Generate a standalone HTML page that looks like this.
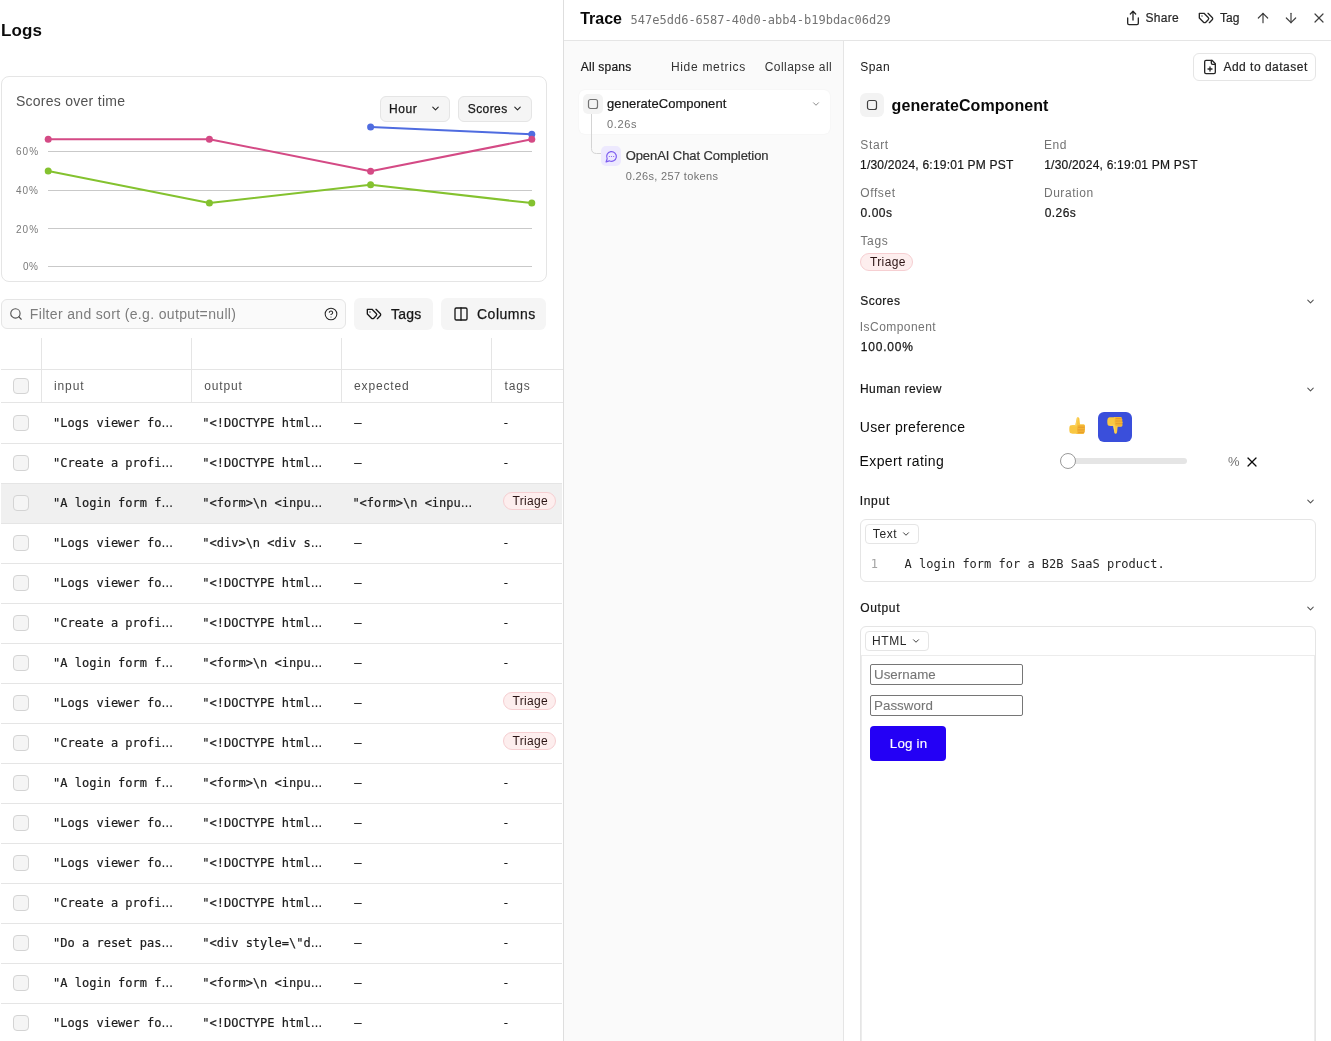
<!DOCTYPE html>
<html lang="en">
<head>
<meta charset="utf-8">
<title>Logs – Trace</title>
<style>
html,body{margin:0;padding:0}
body{width:1331px;height:1041px;position:relative;overflow:hidden;background:#fff;font-family:"Liberation Sans", Arial, sans-serif;font-size:12px;color:#171717}
.t{position:absolute;white-space:pre;line-height:1;margin:0}
.m{font-family:"DejaVu Sans Mono", "Liberation Mono", monospace}
.a{position:absolute;box-sizing:border-box}
.ic{overflow:visible}
.hl{position:absolute;height:1px;background:#e5e5e5}
.vl{position:absolute;width:1px;background:#e5e5e5}
.btn{position:absolute;box-sizing:border-box;background:#f5f5f5;border-radius:6px}
.cb{position:absolute;box-sizing:border-box;width:16px;height:16px;left:13px;border:1px solid #d4d4d4;background:#f5f5f5;border-radius:4px}
.pill{position:absolute;box-sizing:border-box;height:18px;border-radius:9px;background:#fdeeee;border:1px solid #f6cfd2}
.sel{position:absolute;box-sizing:border-box;height:20px;border:1px solid #e5e5e5;border-radius:4px;background:#fff}
.row{position:absolute;left:1px;width:561px;height:40px;box-sizing:border-box;border-bottom:1px solid #e5e5e5}
</style>
</head>
<body>
<main id="logs">
<header><span class="t" style="left:1.0px;top:22px;font-size:17px;color:#0a0a0a;font-weight:700;letter-spacing:0.13px;">Logs</span></header>
<section id="chart-card">
<div class="a" style="left:1px;top:76px;width:546px;height:206px;border:1px solid #e5e5e5;border-radius:8px;background:#fff"></div>
<div class="btn" style="left:380px;top:96px;width:70px;height:26px;border:1px solid #e5e5e5"></div>
<div class="btn" style="left:458px;top:96px;width:74px;height:26px;border:1px solid #e5e5e5"></div>
<svg class="a ic" style="left:429.5px;top:103.4px" width="11" height="11" viewBox="0 0 24 24" fill="none" stroke="#262626" stroke-width="2.4" stroke-linecap="round" stroke-linejoin="round"><path d="m6 9 6 6 6-6"/></svg>
<svg class="a ic" style="left:511.7px;top:103.4px" width="11" height="11" viewBox="0 0 24 24" fill="none" stroke="#262626" stroke-width="2.4" stroke-linecap="round" stroke-linejoin="round"><path d="m6 9 6 6 6-6"/></svg>
<svg class="a" style="left:0;top:0" width="563" height="290" viewBox="0 0 563 290">
<rect x="48" y="151" width="484" height="1" fill="#c9c9c9"/>
<rect x="48" y="190" width="484" height="1" fill="#c9c9c9"/>
<rect x="48" y="228" width="484" height="1" fill="#c9c9c9"/>
<rect x="48" y="266" width="484" height="1" fill="#c9c9c9"/>
<polyline fill="none" stroke="#84c22f" stroke-width="2" stroke-linejoin="round" stroke-linecap="round" points="48.2,171.1 209.4,203.1 370.6,184.8 531.8,203.1"/><circle cx="48.2" cy="171.1" r="3.5" fill="#84c22f"/><circle cx="209.4" cy="203.1" r="3.5" fill="#84c22f"/><circle cx="370.6" cy="184.8" r="3.5" fill="#84c22f"/><circle cx="531.8" cy="203.1" r="3.5" fill="#84c22f"/>
<polyline fill="none" stroke="#4f6ce0" stroke-width="2" stroke-linejoin="round" stroke-linecap="round" points="370.6,127 531.8,134.3"/><circle cx="370.6" cy="127" r="3.5" fill="#4f6ce0"/><circle cx="531.8" cy="134.3" r="3.5" fill="#4f6ce0"/>
<polyline fill="none" stroke="#d44a85" stroke-width="2" stroke-linejoin="round" stroke-linecap="round" points="48.2,139.2 209.4,139.2 370.6,171.2 531.8,139.3"/><circle cx="48.2" cy="139.2" r="3.5" fill="#d44a85"/><circle cx="209.4" cy="139.2" r="3.5" fill="#d44a85"/><circle cx="370.6" cy="171.2" r="3.5" fill="#d44a85"/><circle cx="531.8" cy="139.3" r="3.5" fill="#d44a85"/>
</svg>
<span class="t" style="left:15.9px;top:94px;font-size:14px;color:#525252;letter-spacing:0.27px;">Scores over time</span>
<span class="t" style="left:389.1px;top:103px;font-size:12px;color:#171717;letter-spacing:0.58px;-webkit-text-stroke:0.25px #171717;">Hour</span>
<span class="t" style="left:467.7px;top:103px;font-size:12px;color:#171717;letter-spacing:0.44px;-webkit-text-stroke:0.25px #171717;">Scores</span>
<span class="t" style="left:15.9px;top:147px;font-size:10px;color:#7a7a7a;letter-spacing:1.07px;">60%</span>
<span class="t" style="left:16.1px;top:186px;font-size:10px;color:#7a7a7a;letter-spacing:0.95px;">40%</span>
<span class="t" style="left:15.9px;top:225px;font-size:10px;color:#7a7a7a;letter-spacing:1.07px;">20%</span>
<span class="t" style="left:23.1px;top:262px;font-size:10px;color:#7a7a7a;letter-spacing:0.4px;">0%</span>
</section>
<section id="toolbar">
<div class="a" style="left:1px;top:299px;width:345px;height:30px;border:1px solid #e5e5e5;border-radius:6px;background:#fafafa"></div>
<svg class="a ic" style="left:9.3px;top:306.8px" width="14" height="14" viewBox="0 0 24 24" fill="none" stroke="#525252" stroke-width="1.9" stroke-linecap="round" stroke-linejoin="round"><circle cx="11" cy="11" r="8"/><path d="m21 21-4.3-4.3"/></svg>
<svg class="a ic" style="left:324px;top:307px" width="14" height="14" viewBox="0 0 24 24" fill="none" stroke="#262626" stroke-width="1.8" stroke-linecap="round" stroke-linejoin="round"><circle cx="12" cy="12" r="10"/><path d="M9.09 9a3 3 0 0 1 5.83 1c0 2-3 3-3 3"/><path d="M12 17h.01"/></svg>
<div class="btn" style="left:354px;top:298px;width:79px;height:32px"></div>
<div class="btn" style="left:441px;top:298px;width:105px;height:32px"></div>
<svg class="a ic" style="left:366px;top:306px" width="16" height="16" viewBox="0 0 24 24" fill="none" stroke="#171717" stroke-width="2" stroke-linecap="round" stroke-linejoin="round"><path d="M9 5H2v7l6.29 6.29c.94.94 2.48.94 3.42 0l3.58-3.58c.94-.94.94-2.48 0-3.42L9 5Z"/><path d="M6 9.01V9"/><path d="m15 5 6.3 6.3a2.4 2.4 0 0 1 0 3.4L17 19"/></svg>
<svg class="a ic" style="left:452.7px;top:306px" width="16" height="16" viewBox="0 0 24 24" fill="none" stroke="#171717" stroke-width="2" stroke-linecap="round" stroke-linejoin="round"><rect x="3" y="3" width="18" height="18" rx="2"/><path d="M12 3v18"/></svg>
<span class="t" style="left:29.8px;top:307px;font-size:14px;color:#7c7c7c;letter-spacing:0.34px;">Filter and sort (e.g. output=null)</span>
<span class="t" style="left:390.9px;top:307px;font-size:14px;color:#171717;letter-spacing:0.27px;-webkit-text-stroke:0.25px #171717;">Tags</span>
<span class="t" style="left:477.0px;top:307px;font-size:14px;color:#171717;letter-spacing:0.5px;-webkit-text-stroke:0.25px #171717;">Columns</span>
</section>
<section id="table">
<div class="vl" style="left:41px;top:338px;height:64px"></div>
<div class="vl" style="left:191px;top:338px;height:64px"></div>
<div class="vl" style="left:341px;top:338px;height:64px"></div>
<div class="vl" style="left:491px;top:338px;height:64px"></div>
<div class="hl" style="left:1px;top:369px;width:562px"></div>
<div class="hl" style="left:1px;top:402px;width:562px"></div>
<div class="cb" style="top:378px"></div>
<span class="t" style="left:54.0px;top:380px;font-size:12px;color:#525252;letter-spacing:0.89px;">input</span>
<span class="t" style="left:204.2px;top:380px;font-size:12px;color:#525252;letter-spacing:0.85px;">output</span>
<span class="t" style="left:354.0px;top:380px;font-size:12px;color:#525252;letter-spacing:0.86px;">expected</span>
<span class="t" style="left:504.6px;top:380px;font-size:12px;color:#525252;letter-spacing:0.8px;">tags</span>
<div class="row" style="top:403px;height:41px;">
</div>
<div class="cb" style="top:415px"></div>
<span class="t m" style="left:53.1px;top:417px;font-size:12px;color:#1c1c1c;-webkit-text-stroke:0.2px #1c1c1c;">"Logs viewer fo</span>
<span class="t" style="left:161.3px;top:417px;font-size:12px;color:#1c1c1c;-webkit-text-stroke:0.2px #1c1c1c;">…</span>
<span class="t m" style="left:202.3px;top:417px;font-size:12px;color:#1c1c1c;-webkit-text-stroke:0.2px #1c1c1c;">"&lt;!DOCTYPE html</span>
<span class="t" style="left:310.5px;top:417px;font-size:12px;color:#1c1c1c;-webkit-text-stroke:0.2px #1c1c1c;">…</span>
<span class="t m" style="left:354.3px;top:417px;font-size:12px;color:#1c1c1c;-webkit-text-stroke:0.2px #1c1c1c;">–</span>
<span class="t m" style="left:502.3px;top:417px;font-size:12px;color:#1c1c1c;-webkit-text-stroke:0.2px #1c1c1c;">-</span>
<div class="row" style="top:444px;">
</div>
<div class="cb" style="top:455px"></div>
<span class="t m" style="left:53.1px;top:457px;font-size:12px;color:#1c1c1c;-webkit-text-stroke:0.2px #1c1c1c;">"Create a profi</span>
<span class="t" style="left:161.3px;top:457px;font-size:12px;color:#1c1c1c;-webkit-text-stroke:0.2px #1c1c1c;">…</span>
<span class="t m" style="left:202.3px;top:457px;font-size:12px;color:#1c1c1c;-webkit-text-stroke:0.2px #1c1c1c;">"&lt;!DOCTYPE html</span>
<span class="t" style="left:310.5px;top:457px;font-size:12px;color:#1c1c1c;-webkit-text-stroke:0.2px #1c1c1c;">…</span>
<span class="t m" style="left:354.3px;top:457px;font-size:12px;color:#1c1c1c;-webkit-text-stroke:0.2px #1c1c1c;">–</span>
<span class="t m" style="left:502.3px;top:457px;font-size:12px;color:#1c1c1c;-webkit-text-stroke:0.2px #1c1c1c;">-</span>
<div class="row" style="top:484px;background:#f0f0f0;">
</div>
<div class="cb" style="top:495px"></div>
<div class="pill" style="left:503px;top:492px;width:53px"></div>
<span class="t m" style="left:53.1px;top:497px;font-size:12px;color:#1c1c1c;-webkit-text-stroke:0.2px #1c1c1c;">"A login form f</span>
<span class="t" style="left:161.3px;top:497px;font-size:12px;color:#1c1c1c;-webkit-text-stroke:0.2px #1c1c1c;">…</span>
<span class="t m" style="left:202.3px;top:497px;font-size:12px;color:#1c1c1c;-webkit-text-stroke:0.2px #1c1c1c;">"&lt;form&gt;\n &lt;inpu</span>
<span class="t" style="left:310.5px;top:497px;font-size:12px;color:#1c1c1c;-webkit-text-stroke:0.2px #1c1c1c;">…</span>
<span class="t m" style="left:352.4px;top:497px;font-size:12px;color:#1c1c1c;-webkit-text-stroke:0.2px #1c1c1c;">"&lt;form&gt;\n &lt;inpu</span>
<span class="t" style="left:460.5px;top:497px;font-size:12px;color:#1c1c1c;-webkit-text-stroke:0.2px #1c1c1c;">…</span>
<span class="t" style="left:512.5px;top:495px;font-size:12px;color:#2b1414;letter-spacing:0.31px;">Triage</span>
<div class="row" style="top:524px;">
</div>
<div class="cb" style="top:535px"></div>
<span class="t m" style="left:53.1px;top:537px;font-size:12px;color:#1c1c1c;-webkit-text-stroke:0.2px #1c1c1c;">"Logs viewer fo</span>
<span class="t" style="left:161.3px;top:537px;font-size:12px;color:#1c1c1c;-webkit-text-stroke:0.2px #1c1c1c;">…</span>
<span class="t m" style="left:202.3px;top:537px;font-size:12px;color:#1c1c1c;-webkit-text-stroke:0.2px #1c1c1c;">"&lt;div&gt;\n &lt;div s</span>
<span class="t" style="left:310.5px;top:537px;font-size:12px;color:#1c1c1c;-webkit-text-stroke:0.2px #1c1c1c;">…</span>
<span class="t m" style="left:354.3px;top:537px;font-size:12px;color:#1c1c1c;-webkit-text-stroke:0.2px #1c1c1c;">–</span>
<span class="t m" style="left:502.3px;top:537px;font-size:12px;color:#1c1c1c;-webkit-text-stroke:0.2px #1c1c1c;">-</span>
<div class="row" style="top:564px;">
</div>
<div class="cb" style="top:575px"></div>
<span class="t m" style="left:53.1px;top:577px;font-size:12px;color:#1c1c1c;-webkit-text-stroke:0.2px #1c1c1c;">"Logs viewer fo</span>
<span class="t" style="left:161.3px;top:577px;font-size:12px;color:#1c1c1c;-webkit-text-stroke:0.2px #1c1c1c;">…</span>
<span class="t m" style="left:202.3px;top:577px;font-size:12px;color:#1c1c1c;-webkit-text-stroke:0.2px #1c1c1c;">"&lt;!DOCTYPE html</span>
<span class="t" style="left:310.5px;top:577px;font-size:12px;color:#1c1c1c;-webkit-text-stroke:0.2px #1c1c1c;">…</span>
<span class="t m" style="left:354.3px;top:577px;font-size:12px;color:#1c1c1c;-webkit-text-stroke:0.2px #1c1c1c;">–</span>
<span class="t m" style="left:502.3px;top:577px;font-size:12px;color:#1c1c1c;-webkit-text-stroke:0.2px #1c1c1c;">-</span>
<div class="row" style="top:604px;">
</div>
<div class="cb" style="top:615px"></div>
<span class="t m" style="left:53.1px;top:617px;font-size:12px;color:#1c1c1c;-webkit-text-stroke:0.2px #1c1c1c;">"Create a profi</span>
<span class="t" style="left:161.3px;top:617px;font-size:12px;color:#1c1c1c;-webkit-text-stroke:0.2px #1c1c1c;">…</span>
<span class="t m" style="left:202.3px;top:617px;font-size:12px;color:#1c1c1c;-webkit-text-stroke:0.2px #1c1c1c;">"&lt;!DOCTYPE html</span>
<span class="t" style="left:310.5px;top:617px;font-size:12px;color:#1c1c1c;-webkit-text-stroke:0.2px #1c1c1c;">…</span>
<span class="t m" style="left:354.3px;top:617px;font-size:12px;color:#1c1c1c;-webkit-text-stroke:0.2px #1c1c1c;">–</span>
<span class="t m" style="left:502.3px;top:617px;font-size:12px;color:#1c1c1c;-webkit-text-stroke:0.2px #1c1c1c;">-</span>
<div class="row" style="top:644px;">
</div>
<div class="cb" style="top:655px"></div>
<span class="t m" style="left:53.1px;top:657px;font-size:12px;color:#1c1c1c;-webkit-text-stroke:0.2px #1c1c1c;">"A login form f</span>
<span class="t" style="left:161.3px;top:657px;font-size:12px;color:#1c1c1c;-webkit-text-stroke:0.2px #1c1c1c;">…</span>
<span class="t m" style="left:202.3px;top:657px;font-size:12px;color:#1c1c1c;-webkit-text-stroke:0.2px #1c1c1c;">"&lt;form&gt;\n &lt;inpu</span>
<span class="t" style="left:310.5px;top:657px;font-size:12px;color:#1c1c1c;-webkit-text-stroke:0.2px #1c1c1c;">…</span>
<span class="t m" style="left:354.3px;top:657px;font-size:12px;color:#1c1c1c;-webkit-text-stroke:0.2px #1c1c1c;">–</span>
<span class="t m" style="left:502.3px;top:657px;font-size:12px;color:#1c1c1c;-webkit-text-stroke:0.2px #1c1c1c;">-</span>
<div class="row" style="top:684px;">
</div>
<div class="cb" style="top:695px"></div>
<div class="pill" style="left:503px;top:692px;width:53px"></div>
<span class="t m" style="left:53.1px;top:697px;font-size:12px;color:#1c1c1c;-webkit-text-stroke:0.2px #1c1c1c;">"Logs viewer fo</span>
<span class="t" style="left:161.3px;top:697px;font-size:12px;color:#1c1c1c;-webkit-text-stroke:0.2px #1c1c1c;">…</span>
<span class="t m" style="left:202.3px;top:697px;font-size:12px;color:#1c1c1c;-webkit-text-stroke:0.2px #1c1c1c;">"&lt;!DOCTYPE html</span>
<span class="t" style="left:310.5px;top:697px;font-size:12px;color:#1c1c1c;-webkit-text-stroke:0.2px #1c1c1c;">…</span>
<span class="t m" style="left:354.3px;top:697px;font-size:12px;color:#1c1c1c;-webkit-text-stroke:0.2px #1c1c1c;">–</span>
<span class="t" style="left:512.5px;top:695px;font-size:12px;color:#2b1414;letter-spacing:0.31px;">Triage</span>
<div class="row" style="top:724px;">
</div>
<div class="cb" style="top:735px"></div>
<div class="pill" style="left:503px;top:732px;width:53px"></div>
<span class="t m" style="left:53.1px;top:737px;font-size:12px;color:#1c1c1c;-webkit-text-stroke:0.2px #1c1c1c;">"Create a profi</span>
<span class="t" style="left:161.3px;top:737px;font-size:12px;color:#1c1c1c;-webkit-text-stroke:0.2px #1c1c1c;">…</span>
<span class="t m" style="left:202.3px;top:737px;font-size:12px;color:#1c1c1c;-webkit-text-stroke:0.2px #1c1c1c;">"&lt;!DOCTYPE html</span>
<span class="t" style="left:310.5px;top:737px;font-size:12px;color:#1c1c1c;-webkit-text-stroke:0.2px #1c1c1c;">…</span>
<span class="t m" style="left:354.3px;top:737px;font-size:12px;color:#1c1c1c;-webkit-text-stroke:0.2px #1c1c1c;">–</span>
<span class="t" style="left:512.5px;top:735px;font-size:12px;color:#2b1414;letter-spacing:0.31px;">Triage</span>
<div class="row" style="top:764px;">
</div>
<div class="cb" style="top:775px"></div>
<span class="t m" style="left:53.1px;top:777px;font-size:12px;color:#1c1c1c;-webkit-text-stroke:0.2px #1c1c1c;">"A login form f</span>
<span class="t" style="left:161.3px;top:777px;font-size:12px;color:#1c1c1c;-webkit-text-stroke:0.2px #1c1c1c;">…</span>
<span class="t m" style="left:202.3px;top:777px;font-size:12px;color:#1c1c1c;-webkit-text-stroke:0.2px #1c1c1c;">"&lt;form&gt;\n &lt;inpu</span>
<span class="t" style="left:310.5px;top:777px;font-size:12px;color:#1c1c1c;-webkit-text-stroke:0.2px #1c1c1c;">…</span>
<span class="t m" style="left:354.3px;top:777px;font-size:12px;color:#1c1c1c;-webkit-text-stroke:0.2px #1c1c1c;">–</span>
<span class="t m" style="left:502.3px;top:777px;font-size:12px;color:#1c1c1c;-webkit-text-stroke:0.2px #1c1c1c;">-</span>
<div class="row" style="top:804px;">
</div>
<div class="cb" style="top:815px"></div>
<span class="t m" style="left:53.1px;top:817px;font-size:12px;color:#1c1c1c;-webkit-text-stroke:0.2px #1c1c1c;">"Logs viewer fo</span>
<span class="t" style="left:161.3px;top:817px;font-size:12px;color:#1c1c1c;-webkit-text-stroke:0.2px #1c1c1c;">…</span>
<span class="t m" style="left:202.3px;top:817px;font-size:12px;color:#1c1c1c;-webkit-text-stroke:0.2px #1c1c1c;">"&lt;!DOCTYPE html</span>
<span class="t" style="left:310.5px;top:817px;font-size:12px;color:#1c1c1c;-webkit-text-stroke:0.2px #1c1c1c;">…</span>
<span class="t m" style="left:354.3px;top:817px;font-size:12px;color:#1c1c1c;-webkit-text-stroke:0.2px #1c1c1c;">–</span>
<span class="t m" style="left:502.3px;top:817px;font-size:12px;color:#1c1c1c;-webkit-text-stroke:0.2px #1c1c1c;">-</span>
<div class="row" style="top:844px;">
</div>
<div class="cb" style="top:855px"></div>
<span class="t m" style="left:53.1px;top:857px;font-size:12px;color:#1c1c1c;-webkit-text-stroke:0.2px #1c1c1c;">"Logs viewer fo</span>
<span class="t" style="left:161.3px;top:857px;font-size:12px;color:#1c1c1c;-webkit-text-stroke:0.2px #1c1c1c;">…</span>
<span class="t m" style="left:202.3px;top:857px;font-size:12px;color:#1c1c1c;-webkit-text-stroke:0.2px #1c1c1c;">"&lt;!DOCTYPE html</span>
<span class="t" style="left:310.5px;top:857px;font-size:12px;color:#1c1c1c;-webkit-text-stroke:0.2px #1c1c1c;">…</span>
<span class="t m" style="left:354.3px;top:857px;font-size:12px;color:#1c1c1c;-webkit-text-stroke:0.2px #1c1c1c;">–</span>
<span class="t m" style="left:502.3px;top:857px;font-size:12px;color:#1c1c1c;-webkit-text-stroke:0.2px #1c1c1c;">-</span>
<div class="row" style="top:884px;">
</div>
<div class="cb" style="top:895px"></div>
<span class="t m" style="left:53.1px;top:897px;font-size:12px;color:#1c1c1c;-webkit-text-stroke:0.2px #1c1c1c;">"Create a profi</span>
<span class="t" style="left:161.3px;top:897px;font-size:12px;color:#1c1c1c;-webkit-text-stroke:0.2px #1c1c1c;">…</span>
<span class="t m" style="left:202.3px;top:897px;font-size:12px;color:#1c1c1c;-webkit-text-stroke:0.2px #1c1c1c;">"&lt;!DOCTYPE html</span>
<span class="t" style="left:310.5px;top:897px;font-size:12px;color:#1c1c1c;-webkit-text-stroke:0.2px #1c1c1c;">…</span>
<span class="t m" style="left:354.3px;top:897px;font-size:12px;color:#1c1c1c;-webkit-text-stroke:0.2px #1c1c1c;">–</span>
<span class="t m" style="left:502.3px;top:897px;font-size:12px;color:#1c1c1c;-webkit-text-stroke:0.2px #1c1c1c;">-</span>
<div class="row" style="top:924px;">
</div>
<div class="cb" style="top:935px"></div>
<span class="t m" style="left:53.1px;top:937px;font-size:12px;color:#1c1c1c;-webkit-text-stroke:0.2px #1c1c1c;">"Do a reset pas</span>
<span class="t" style="left:161.3px;top:937px;font-size:12px;color:#1c1c1c;-webkit-text-stroke:0.2px #1c1c1c;">…</span>
<span class="t m" style="left:202.3px;top:937px;font-size:12px;color:#1c1c1c;-webkit-text-stroke:0.2px #1c1c1c;">"&lt;div style=\"d</span>
<span class="t" style="left:310.5px;top:937px;font-size:12px;color:#1c1c1c;-webkit-text-stroke:0.2px #1c1c1c;">…</span>
<span class="t m" style="left:354.3px;top:937px;font-size:12px;color:#1c1c1c;-webkit-text-stroke:0.2px #1c1c1c;">–</span>
<span class="t m" style="left:502.3px;top:937px;font-size:12px;color:#1c1c1c;-webkit-text-stroke:0.2px #1c1c1c;">-</span>
<div class="row" style="top:964px;">
</div>
<div class="cb" style="top:975px"></div>
<span class="t m" style="left:53.1px;top:977px;font-size:12px;color:#1c1c1c;-webkit-text-stroke:0.2px #1c1c1c;">"A login form f</span>
<span class="t" style="left:161.3px;top:977px;font-size:12px;color:#1c1c1c;-webkit-text-stroke:0.2px #1c1c1c;">…</span>
<span class="t m" style="left:202.3px;top:977px;font-size:12px;color:#1c1c1c;-webkit-text-stroke:0.2px #1c1c1c;">"&lt;form&gt;\n &lt;inpu</span>
<span class="t" style="left:310.5px;top:977px;font-size:12px;color:#1c1c1c;-webkit-text-stroke:0.2px #1c1c1c;">…</span>
<span class="t m" style="left:354.3px;top:977px;font-size:12px;color:#1c1c1c;-webkit-text-stroke:0.2px #1c1c1c;">–</span>
<span class="t m" style="left:502.3px;top:977px;font-size:12px;color:#1c1c1c;-webkit-text-stroke:0.2px #1c1c1c;">-</span>
<div class="row" style="top:1004px;">
</div>
<div class="cb" style="top:1015px"></div>
<span class="t m" style="left:53.1px;top:1017px;font-size:12px;color:#1c1c1c;-webkit-text-stroke:0.2px #1c1c1c;">"Logs viewer fo</span>
<span class="t" style="left:161.3px;top:1017px;font-size:12px;color:#1c1c1c;-webkit-text-stroke:0.2px #1c1c1c;">…</span>
<span class="t m" style="left:202.3px;top:1017px;font-size:12px;color:#1c1c1c;-webkit-text-stroke:0.2px #1c1c1c;">"&lt;!DOCTYPE html</span>
<span class="t" style="left:310.5px;top:1017px;font-size:12px;color:#1c1c1c;-webkit-text-stroke:0.2px #1c1c1c;">…</span>
<span class="t m" style="left:354.3px;top:1017px;font-size:12px;color:#1c1c1c;-webkit-text-stroke:0.2px #1c1c1c;">–</span>
<span class="t m" style="left:502.3px;top:1017px;font-size:12px;color:#1c1c1c;-webkit-text-stroke:0.2px #1c1c1c;">-</span>
</section>
</main>
<aside id="trace">
<div class="vl" style="left:563px;top:0;height:1041px;background:#dedede"></div>
<div class="a" style="left:564px;top:0;width:767px;height:1041px;background:#fff"></div>
<div class="hl" style="left:564px;top:40px;width:767px"></div>
<header id="trace-head">
<span class="t" style="left:580.2px;top:11px;font-size:16px;color:#0a0a0a;font-weight:700;">Trace</span>
<span class="t m" style="left:630.6px;top:14px;font-size:12px;color:#737373;">547e5dd6-6587-40d0-abb4-b19bdac06d29</span>
<span class="t" style="left:1145.5px;top:12px;font-size:12px;color:#262626;letter-spacing:0.26px;-webkit-text-stroke:0.2px #262626;">Share</span>
<span class="t" style="left:1220.0px;top:12px;font-size:12px;color:#262626;letter-spacing:0.1px;-webkit-text-stroke:0.2px #262626;">Tag</span>
<svg class="a ic" style="left:1125px;top:9.7px" width="16" height="16" viewBox="0 0 24 24" fill="none" stroke="#262626" stroke-width="2" stroke-linecap="round" stroke-linejoin="round"><path d="M4 12v8a2 2 0 0 0 2 2h12a2 2 0 0 0 2-2v-8"/><path d="m16 6-4-4-4 4"/><path d="M12 2v13"/></svg>
<svg class="a ic" style="left:1198.2px;top:10.3px" width="16" height="16" viewBox="0 0 24 24" fill="none" stroke="#262626" stroke-width="2" stroke-linecap="round" stroke-linejoin="round"><path d="M9 5H2v7l6.29 6.29c.94.94 2.48.94 3.42 0l3.58-3.58c.94-.94.94-2.48 0-3.42L9 5Z"/><path d="M6 9.01V9"/><path d="m15 5 6.3 6.3a2.4 2.4 0 0 1 0 3.4L17 19"/></svg>
<svg class="a ic" style="left:1255px;top:10.3px" width="16" height="16" viewBox="0 0 24 24" fill="none" stroke="#404040" stroke-width="1.8" stroke-linecap="round" stroke-linejoin="round"><path d="m5 12 7-7 7 7"/><path d="M12 19V5"/></svg>
<svg class="a ic" style="left:1283px;top:10.3px" width="16" height="16" viewBox="0 0 24 24" fill="none" stroke="#404040" stroke-width="1.8" stroke-linecap="round" stroke-linejoin="round"><path d="M12 5v14"/><path d="m19 12-7 7-7-7"/></svg>
<svg class="a ic" style="left:1311.2px;top:10.2px" width="16" height="16" viewBox="0 0 24 24" fill="none" stroke="#404040" stroke-width="1.8" stroke-linecap="round" stroke-linejoin="round"><path d="M18 6 6 18"/><path d="m6 6 12 12"/></svg>
</header>
<nav id="spans">
<div class="a" style="left:564px;top:41px;width:279px;height:1000px;background:#fafafa"></div>
<div class="vl" style="left:843px;top:41px;height:1000px"></div>
<div class="a" style="left:579px;top:90px;width:251px;height:44px;background:#fff;border-radius:6px;box-shadow:0 0 2px rgba(0,0,0,0.06)"></div>
<svg class="a" style="left:585px;top:110px" width="20" height="50" viewBox="0 0 20 50" fill="none"><path d="M6.5 4V38.5Q6.5 43.5 11.5 43.5H16" stroke="#d4d4d4" stroke-width="1"/></svg>
<div class="a" style="left:583px;top:94px;width:20px;height:20px;background:#f3f3f3;border-radius:5px"></div>
<svg class="a ic" style="left:587px;top:98px" width="12" height="12" viewBox="0 0 24 24" fill="none" stroke="#737373" stroke-width="2.4" stroke-linecap="round" stroke-linejoin="round"><rect x="3" y="3" width="18" height="18" rx="4"/></svg>
<svg class="a ic" style="left:811px;top:99.4px" width="10" height="10" viewBox="0 0 24 24" fill="none" stroke="#737373" stroke-width="2" stroke-linecap="round" stroke-linejoin="round"><path d="m6 9 6 6 6-6"/></svg>
<div class="a" style="left:601px;top:146px;width:20px;height:20px;background:#ede9fe;border-radius:5px"></div>
<svg class="a ic" style="left:604.5px;top:149.5px" width="13" height="13" viewBox="0 0 24 24" fill="none" stroke="#7c5cf0" stroke-width="2.2" stroke-linecap="round" stroke-linejoin="round"><path d="M7.9 20A9 9 0 1 0 4 16.1L2 22Z"/><path d="M8 12h.01"/><path d="M12 12h.01"/><path d="M16 12h.01"/></svg>
<span class="t" style="left:580.8px;top:61px;font-size:12px;color:#171717;letter-spacing:0.22px;-webkit-text-stroke:0.2px #171717;">All spans</span>
<span class="t" style="left:670.9px;top:61px;font-size:12px;color:#333;letter-spacing:0.7px;">Hide metrics</span>
<span class="t" style="left:764.7px;top:61px;font-size:12px;color:#333;letter-spacing:0.46px;">Collapse all</span>
<span class="t" style="left:607.1px;top:97px;font-size:13px;color:#171717;letter-spacing:0.04px;-webkit-text-stroke:0.2px #171717;">generateComponent</span>
<span class="t" style="left:607.1px;top:119px;font-size:11px;color:#737373;letter-spacing:0.6px;">0.26s</span>
<span class="t" style="left:625.7px;top:149px;font-size:13px;color:#333;letter-spacing:-0.08px;-webkit-text-stroke:0.2px #333;">OpenAI Chat Completion</span>
<span class="t" style="left:625.7px;top:171px;font-size:11px;color:#737373;letter-spacing:0.34px;">0.26s, 257 tokens</span>
</nav>
<section id="span-detail">
<div class="a" style="left:1193px;top:53px;width:123px;height:28px;border:1px solid #e5e5e5;border-radius:6px;background:#fff"></div>
<svg class="a ic" style="left:1202px;top:59.2px" width="16" height="16" viewBox="0 0 24 24" fill="none" stroke="#262626" stroke-width="2" stroke-linecap="round" stroke-linejoin="round"><path d="M15 2H6a2 2 0 0 0-2 2v16a2 2 0 0 0 2 2h12a2 2 0 0 0 2-2V7Z"/><path d="M14 2v4a2 2 0 0 0 2 2h4"/><path d="M9 15h6"/><path d="M12 18v-6"/></svg>
<div class="a" style="left:860px;top:93px;width:24px;height:24px;background:#f3f3f3;border-radius:6px"></div>
<svg class="a ic" style="left:866px;top:99px" width="12" height="12" viewBox="0 0 24 24" fill="none" stroke="#404040" stroke-width="2.4" stroke-linecap="round" stroke-linejoin="round"><rect x="3" y="3" width="18" height="18" rx="4"/></svg>
<div class="pill" style="left:860px;top:253px;width:53px"></div>
<svg class="a ic" style="left:1304.5px;top:295.5px" width="11" height="11" viewBox="0 0 24 24" fill="none" stroke="#525252" stroke-width="2.2" stroke-linecap="round" stroke-linejoin="round"><path d="m6 9 6 6 6-6"/></svg>
<svg class="a ic" style="left:1304.5px;top:383.5px" width="11" height="11" viewBox="0 0 24 24" fill="none" stroke="#525252" stroke-width="2.2" stroke-linecap="round" stroke-linejoin="round"><path d="m6 9 6 6 6-6"/></svg>
<svg class="a ic" style="left:1304.5px;top:495.5px" width="11" height="11" viewBox="0 0 24 24" fill="none" stroke="#525252" stroke-width="2.2" stroke-linecap="round" stroke-linejoin="round"><path d="m6 9 6 6 6-6"/></svg>
<svg class="a ic" style="left:1304.5px;top:602.5px" width="11" height="11" viewBox="0 0 24 24" fill="none" stroke="#525252" stroke-width="2.2" stroke-linecap="round" stroke-linejoin="round"><path d="m6 9 6 6 6-6"/></svg>
<svg class="a" style="left:1068.6px;top:417px" width="16.4" height="16.9" viewBox="0 0 27.5 28" preserveAspectRatio="none"><g><path fill="#f9c742" d="M10.6 13.2C11.3 9.5 12.3 5.5 12.9 2.2C13.3 0 16.6 -0.2 17.3 2C18 5 18 9 18.6 12.2H24.5C27 12.5 27.5 15.5 26.3 17C27.5 18 27.5 20.5 26 21.5C27 22.5 27 24.5 25.5 25.5C26 26.5 25.5 28 23 28H13C10 27 5 28.5 2 26.5C0 25 0 15.5 2 14.2C5 13.2 8 13.4 10.6 13.2Z"/><path fill="#f0ae32" d="M15 13.2H24.4C26.6 13.5 27 15.6 26 16.9C27.2 18 27.2 20.4 25.8 21.4C26.8 22.5 26.7 24.4 25.3 25.3C25.8 26.4 25.2 27.6 23 27.6H14.5C13 24 13 17 15 13.2Z" opacity="0.75"/><path fill="none" stroke="#e08f22" stroke-width="1.1" stroke-linecap="round" d="M16 17H25.8M15.5 21.4H25.6M16 25.4H25"/><path fill="#fbd769" d="M2.4 15C4.5 14.2 8 14.3 10.8 14.1C11.6 10.5 12.5 6 13.3 2.6C13.6 1.5 14.6 1.2 15.2 1.4C14.4 5 13.6 10 12.6 15.2C9 15.6 5 15.2 2.4 15Z" opacity="0.8"/></g></svg>
<div class="a" style="left:1098px;top:412px;width:34px;height:30px;border-radius:6px;background:#3a4fdb"></div>
<svg class="a" style="left:1107.1px;top:417px" width="15.8" height="17.1" viewBox="0 0 27.5 28" preserveAspectRatio="none"><g transform="translate(0,28) scale(1,-1)"><path fill="#f9c742" d="M10.6 13.2C11.3 9.5 12.3 5.5 12.9 2.2C13.3 0 16.6 -0.2 17.3 2C18 5 18 9 18.6 12.2H24.5C27 12.5 27.5 15.5 26.3 17C27.5 18 27.5 20.5 26 21.5C27 22.5 27 24.5 25.5 25.5C26 26.5 25.5 28 23 28H13C10 27 5 28.5 2 26.5C0 25 0 15.5 2 14.2C5 13.2 8 13.4 10.6 13.2Z"/><path fill="#f0ae32" d="M15 13.2H24.4C26.6 13.5 27 15.6 26 16.9C27.2 18 27.2 20.4 25.8 21.4C26.8 22.5 26.7 24.4 25.3 25.3C25.8 26.4 25.2 27.6 23 27.6H14.5C13 24 13 17 15 13.2Z" opacity="0.75"/><path fill="none" stroke="#e08f22" stroke-width="1.1" stroke-linecap="round" d="M16 17H25.8M15.5 21.4H25.6M16 25.4H25"/><path fill="#fbd769" d="M2.4 15C4.5 14.2 8 14.3 10.8 14.1C11.6 10.5 12.5 6 13.3 2.6C13.6 1.5 14.6 1.2 15.2 1.4C14.4 5 13.6 10 12.6 15.2C9 15.6 5 15.2 2.4 15Z" opacity="0.8"/></g></svg>
<div class="a" style="left:1066px;top:458px;width:121px;height:6px;border-radius:3px;background:#e5e5e5"></div>
<div class="a" style="left:1060px;top:453px;width:16px;height:16px;border-radius:8px;background:#fff;border:1px solid #9a9a9a"></div>
<svg class="a ic" style="left:1244.2px;top:454.2px" width="16" height="16" viewBox="0 0 24 24" fill="none" stroke="#0a0a0a" stroke-width="1.8" stroke-linecap="round" stroke-linejoin="round"><path d="M18 6 6 18"/><path d="m6 6 12 12"/></svg>
<div class="a" style="left:860px;top:519px;width:456px;height:63px;border:1px solid #e5e5e5;border-radius:6px;background:#fff"></div>
<div class="sel" style="left:865px;top:524px;width:54px"></div>
<svg class="a ic" style="left:901.1px;top:528.8px" width="10" height="10" viewBox="0 0 24 24" fill="none" stroke="#404040" stroke-width="2.4" stroke-linecap="round" stroke-linejoin="round"><path d="m6 9 6 6 6-6"/></svg>
<div class="a" style="left:860px;top:626px;width:456px;height:440px;border:1px solid #e5e5e5;border-radius:6px;background:#fff"></div>
<div class="sel" style="left:865px;top:631px;width:64px"></div>
<svg class="a ic" style="left:911px;top:635.6px" width="10" height="10" viewBox="0 0 24 24" fill="none" stroke="#404040" stroke-width="2.4" stroke-linecap="round" stroke-linejoin="round"><path d="m6 9 6 6 6-6"/></svg>
<div class="a" style="left:861px;top:655px;width:454px;height:400px;border:1px solid #ececec;border-bottom:0;background:#fff"></div>
<div class="a" style="left:870px;top:664px;width:153px;height:21px;border:1px solid #767676;border-radius:2px;background:#fff"></div>
<div class="a" style="left:870px;top:695px;width:153px;height:21px;border:1px solid #767676;border-radius:2px;background:#fff"></div>
<div class="a" style="left:870px;top:726px;width:76px;height:35px;border-radius:4px;background:#2400f5"></div>
<span class="t" style="left:860.3px;top:61px;font-size:12px;color:#171717;letter-spacing:0.42px;">Span</span>
<span class="t" style="left:1223.4px;top:61px;font-size:12px;color:#262626;letter-spacing:0.5px;-webkit-text-stroke:0.2px #262626;">Add to dataset</span>
<span class="t" style="left:891.6px;top:98px;font-size:16px;color:#0a0a0a;font-weight:700;letter-spacing:0.08px;">generateComponent</span>
<span class="t" style="left:860.3px;top:139px;font-size:12px;color:#737373;letter-spacing:0.64px;">Start</span>
<span class="t" style="left:860.0px;top:159px;font-size:12px;color:#171717;letter-spacing:0.22px;-webkit-text-stroke:0.2px #171717;">1/30/2024, 6:19:01 PM PST</span>
<span class="t" style="left:1043.9px;top:139px;font-size:12px;color:#737373;letter-spacing:0.6px;">End</span>
<span class="t" style="left:1044.2px;top:159px;font-size:12px;color:#171717;letter-spacing:0.22px;-webkit-text-stroke:0.2px #171717;">1/30/2024, 6:19:01 PM PST</span>
<span class="t" style="left:860.3px;top:187px;font-size:12px;color:#737373;letter-spacing:0.59px;">Offset</span>
<span class="t" style="left:860.5px;top:207px;font-size:12px;color:#171717;letter-spacing:0.56px;-webkit-text-stroke:0.2px #171717;">0.00s</span>
<span class="t" style="left:1043.9px;top:187px;font-size:12px;color:#737373;letter-spacing:0.57px;">Duration</span>
<span class="t" style="left:1044.7px;top:207px;font-size:12px;color:#171717;letter-spacing:0.44px;-webkit-text-stroke:0.2px #171717;">0.26s</span>
<span class="t" style="left:860.5px;top:235px;font-size:12px;color:#737373;letter-spacing:0.62px;">Tags</span>
<span class="t" style="left:870.0px;top:256px;font-size:12px;color:#2b1414;letter-spacing:0.37px;">Triage</span>
<span class="t" style="left:860.3px;top:295px;font-size:12px;color:#171717;letter-spacing:0.46px;-webkit-text-stroke:0.2px #171717;">Scores</span>
<span class="t" style="left:859.8px;top:321px;font-size:12px;color:#737373;letter-spacing:0.45px;">IsComponent</span>
<span class="t" style="left:860.8px;top:341px;font-size:12px;color:#171717;letter-spacing:0.79px;-webkit-text-stroke:0.25px #171717;">100.00%</span>
<span class="t" style="left:860.0px;top:383px;font-size:12px;color:#171717;letter-spacing:0.42px;-webkit-text-stroke:0.2px #171717;">Human review</span>
<span class="t" style="left:859.8px;top:420px;font-size:14px;color:#0a0a0a;letter-spacing:0.34px;">User preference</span>
<span class="t" style="left:859.5px;top:454px;font-size:14px;color:#0a0a0a;letter-spacing:0.41px;">Expert rating</span>
<span class="t" style="left:1227.9px;top:455px;font-size:13px;color:#737373;">%</span>
<span class="t" style="left:859.7px;top:495px;font-size:12px;color:#171717;letter-spacing:0.71px;-webkit-text-stroke:0.2px #171717;">Input</span>
<span class="t" style="left:872.8px;top:528px;font-size:12px;color:#262626;letter-spacing:0.58px;">Text</span>
<span class="t m" style="left:870.7px;top:558px;font-size:12px;color:#a3a3a3;">1</span>
<span class="t m" style="left:904.6px;top:558px;font-size:12px;color:#262626;">A login form for a B2B SaaS product.</span>
<span class="t" style="left:860.2px;top:602px;font-size:12px;color:#171717;letter-spacing:0.66px;-webkit-text-stroke:0.2px #171717;">Output</span>
<span class="t" style="left:872.0px;top:635px;font-size:12px;color:#262626;letter-spacing:0.58px;">HTML</span>
<span class="t" style="left:874.0px;top:668px;font-size:13.33px;color:#757575;letter-spacing:0.03px;-webkit-text-stroke:0.1px #757575;">Username</span>
<span class="t" style="left:874.0px;top:699px;font-size:13.33px;color:#757575;letter-spacing:0.05px;-webkit-text-stroke:0.1px #757575;">Password</span>
<span class="t" style="left:889.8px;top:737px;font-size:13.33px;color:#ffffff;letter-spacing:0.22px;-webkit-text-stroke:0.15px #ffffff;">Log in</span>
</section>
</aside>
</body>
</html>
